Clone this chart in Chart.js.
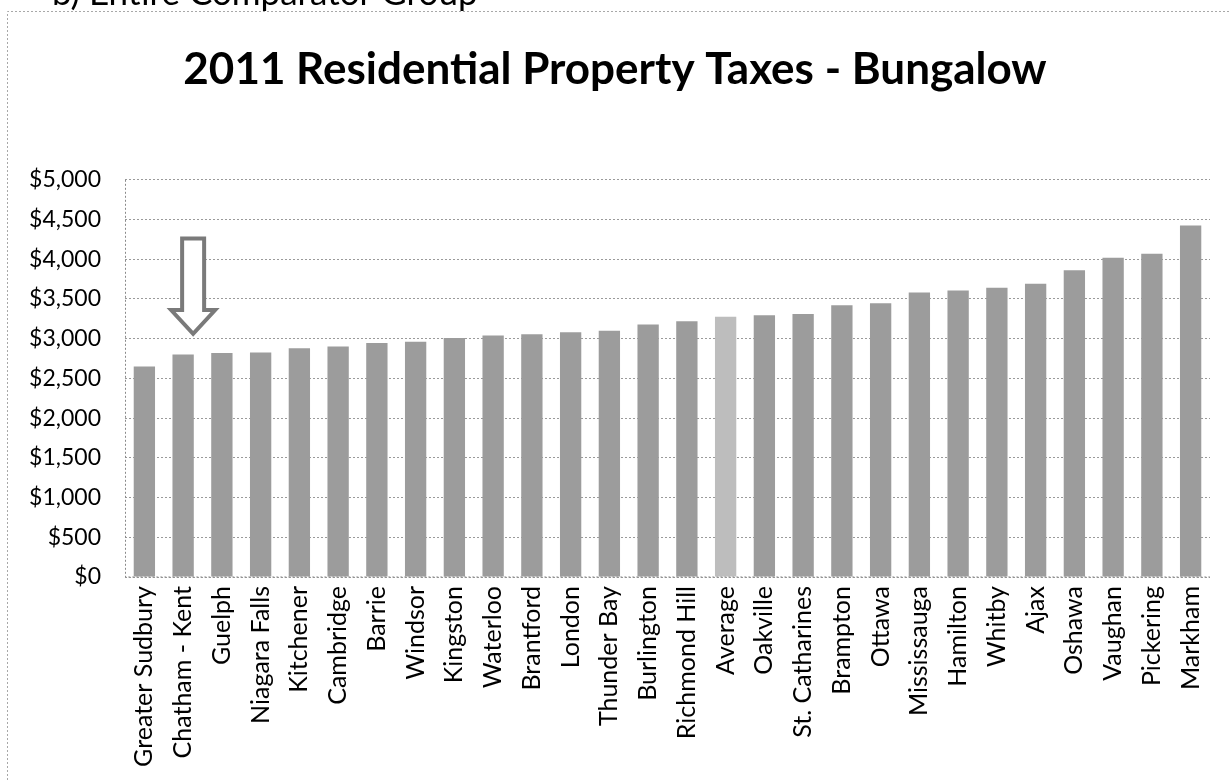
<!DOCTYPE html>
<html>
<head>
<meta charset="utf-8">
<title>2011 Residential Property Taxes - Bungalow</title>
<script src="https://cdn.jsdelivr.net/npm/chart.js@4.4.1/dist/chart.umd.min.js"></script>
<style>
  html, body { margin: 0; padding: 0; background: #fff; }
  canvas { display: block; }
</style>
</head>
<body>
<canvas id="taxChart" width="1230" height="781"></canvas>
<script>
// Municipalities, ordered from lowest to highest bungalow tax
const cities = [
  'Greater Sudbury', 'Chatham - Kent', 'Guelph', 'Niagara Falls', 'Kitchener',
  'Cambridge', 'Barrie', 'Windsor', 'Kingston', 'Waterloo', 'Brantford',
  'London', 'Thunder Bay', 'Burlington', 'Richmond Hill', 'Average', 'Oakville',
  'St. Catharines', 'Brampton', 'Ottawa', 'Mississauga', 'Hamilton', 'Whitby',
  'Ajax', 'Oshawa', 'Vaughan', 'Pickering', 'Markham'
];

// 2011 property taxes on a bungalow ($)
const taxes2011 = [
  2650, 2800, 2820, 2825, 2880,
  2900, 2945, 2960, 3010, 3040, 3055,
  3080, 3100, 3180, 3220, 3275, 3295,
  3310, 3420, 3445, 3580, 3605, 3640,
  3690, 3860, 4020, 4070, 4425
];

const yTicks = [0, 500, 1000, 1500, 2000, 2500, 3000, 3500, 4000, 4500, 5000];

// Call-out arrow over our own municipality
const highlightCity = 'Chatham - Kent';
const arrowTop = 4260;
const arrowHeadStart = 3360;
const arrowTip = 3060;

const FONT = 'Lato, "Open Sans", sans-serif';
const BAR_GREY = '#9c9c9c';
const AVG_GREY = '#bdbdbd';

const barColors = cities.map(c => c === 'Average' ? AVG_GREY : BAR_GREY);

const money = v => '$' + v.toLocaleString('en-US');

// Page frame, section heading and the dotted axis lines
const framePlugin = {
  id: 'frame',
  beforeDraw(chart) {
    const { ctx } = chart;
    ctx.save();
    ctx.strokeStyle = '#a8a8a8';
    ctx.lineWidth = 1;
    ctx.setLineDash([2, 2]);
    ctx.beginPath();
    ctx.moveTo(7.5, 800);
    ctx.lineTo(7.5, 11.5);
    ctx.lineTo(1240, 11.5);
    ctx.stroke();
    ctx.setLineDash([]);
    ctx.fillStyle = '#000';
    ctx.font = '35px ' + FONT;
    ctx.textBaseline = 'alphabetic';
    ctx.fillText('b) Entire Comparator Group', 52, 5);
    ctx.restore();
  },
  afterDraw(chart) {
    const { ctx, chartArea } = chart;
    ctx.save();
    ctx.strokeStyle = '#8a8a8a';
    ctx.lineWidth = 1;
    ctx.setLineDash([2, 2]);
    ctx.beginPath();
    ctx.moveTo(Math.round(chartArea.left) + 0.5, chartArea.top);
    ctx.lineTo(Math.round(chartArea.left) + 0.5, chartArea.bottom);
    ctx.lineTo(chartArea.right, chartArea.bottom);
    ctx.stroke();
    ctx.restore();
  }
};

// Hollow block arrow pointing down at the highlighted bar
const arrowPlugin = {
  id: 'arrow',
  afterDatasetsDraw(chart) {
    const { ctx, scales: { x, y } } = chart;
    const cx = x.getPixelForValue(cities.indexOf(highlightCity)) + 10;
    const top = y.getPixelForValue(arrowTop);
    const neck = y.getPixelForValue(arrowHeadStart);
    const tip = y.getPixelForValue(arrowTip);
    const shaft = 11;
    const head = 22;
    ctx.save();
    ctx.beginPath();
    ctx.moveTo(cx - shaft, top);
    ctx.lineTo(cx + shaft, top);
    ctx.lineTo(cx + shaft, neck);
    ctx.lineTo(cx + head, neck);
    ctx.lineTo(cx, tip);
    ctx.lineTo(cx - head, neck);
    ctx.lineTo(cx - shaft, neck);
    ctx.closePath();
    ctx.fillStyle = '#fff';
    ctx.fill();
    ctx.lineJoin = 'miter';
    ctx.lineWidth = 4;
    ctx.strokeStyle = '#7a7a7a';
    ctx.stroke();
    ctx.restore();
  }
};

new Chart(document.getElementById('taxChart'), {
  type: 'bar',
  data: {
    labels: cities,
    datasets: [{
      label: '2011 Residential Property Taxes - Bungalow',
      data: taxes2011,
      backgroundColor: barColors,
      borderWidth: 0,
      categoryPercentage: 1,
      barPercentage: 0.55
    }]
  },
  options: {
    responsive: false,
    devicePixelRatio: 1,
    animation: false,
    events: [],
    layout: {
      padding: { top: 0, left: 20, right: 20, bottom: 0 }
    },
    plugins: {
      legend: { display: false },
      tooltip: { enabled: false },
      title: {
        display: true,
        text: '2011 Residential Property Taxes - Bungalow',
        color: '#000',
        font: { family: FONT, size: 44, weight: 'bold', lineHeight: 1.2 },
        padding: { top: 43, bottom: 84 }
      }
    },
    scales: {
      x: {
        grid: { display: false, drawTicks: false },
        border: { display: false },
        ticks: {
          color: '#000',
          font: { family: FONT, size: 25 },
          minRotation: 90,
          maxRotation: 90,
          autoSkip: false,
          padding: 9
        },
        afterFit(scale) { scale.height = 204; }
      },
      y: {
        min: 0,
        max: 5000,
        afterBuildTicks(scale) {
          scale.ticks = yTicks.map(v => ({ value: v }));
        },
        grid: { color: '#9a9a9a', lineWidth: 1, drawTicks: false },
        border: { display: false, dash: [2, 2] },
        ticks: {
          color: '#000',
          font: { family: FONT, size: 23 },
          padding: 24,
          callback: v => money(v)
        },
        afterFit(scale) { scale.width = 105; }
      }
    }
  },
  plugins: [framePlugin, arrowPlugin]
});
</script>
</body>
</html>
